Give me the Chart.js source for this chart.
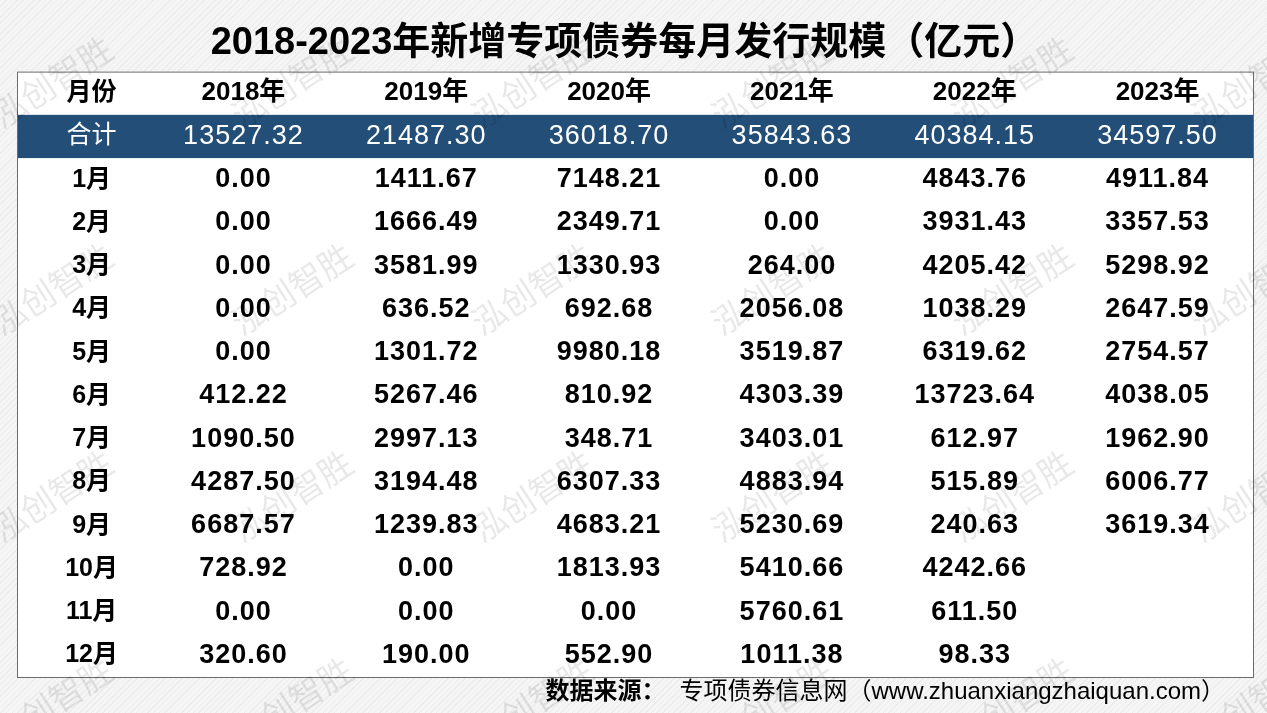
<!DOCTYPE html>
<html>
<head>
  <meta charset="utf-8">
  <title>2018-2023年新增专项债券每月发行规模（亿元）</title>
  <script src="https://cdn.jsdelivr.net/npm/chart.js"></script>
  <style>
    html, body { margin: 0; padding: 0; }
    body { background: repeating-linear-gradient(135deg, #ececec 0 1px, #f5f5f5 1px 4px); }
    #wrap { width: 1267px; height: 713px; position: relative; }
  </style>
</head>
<body>
<div id="wrap"><canvas id="tableChart"></canvas></div>

<script>
  // table data (亿元)
  const years = ['2018年', '2019年', '2020年', '2021年', '2022年', '2023年'];
  const rows = ['月份', '合计', '1月', '2月', '3月', '4月', '5月', '6月', '7月', '8月', '9月', '10月', '11月', '12月'];
  const totals = [13527.32, 21487.30, 36018.70, 35843.63, 40384.15, 34597.50];
  const y2018 = [0.00, 0.00, 0.00, 0.00, 0.00, 412.22, 1090.50, 4287.50, 6687.57, 728.92, 0.00, 320.60];
  const y2019 = [1411.67, 1666.49, 3581.99, 636.52, 1301.72, 5267.46, 2997.13, 3194.48, 1239.83, 0.00, 0.00, 190.00];
  const y2020 = [7148.21, 2349.71, 1330.93, 692.68, 9980.18, 810.92, 348.71, 6307.33, 4683.21, 1813.93, 0.00, 552.90];
  const y2021 = [0.00, 0.00, 264.00, 2056.08, 3519.87, 4303.39, 3403.01, 4883.94, 5230.69, 5410.66, 5760.61, 1011.38];
  const y2022 = [4843.76, 3931.43, 4205.42, 1038.29, 6319.62, 13723.64, 612.97, 515.89, 240.63, 4242.66, 611.50, 98.33];
  const y2023 = [4911.84, 3357.53, 5298.92, 2647.59, 2754.57, 4038.05, 1962.90, 6006.77, 3619.34, null, null, null];
  const monthly = [y2018, y2019, y2020, y2021, y2022, y2023];

  const titleText = '2018-2023年新增专项债券每月发行规模（亿元）';
  const sourceLabel = '数据来源：';
  const sourceText = '专项债券信息网（www.zhuanxiangzhaiquan.com）';
  const watermark = '泓创智胜';

  const FONT = '"Liberation Sans", "Noto Sans CJK SC", sans-serif';
  const BAND = '#224e78';
  Chart.defaults.font.family = FONT;

  // one invisible point per cell, the plugin writes the value there
  const datasets = years.map((yr, j) => {
    const pts = [{ x: yr, y: '合计', v: totals[j] }];
    monthly[j].forEach((v, i) => {
      if (v !== null) pts.push({ x: yr, y: rows[i + 2], v: v });
    });
    return { label: yr, data: pts, showLine: false, pointRadius: 0, pointHoverRadius: 0 };
  });

  const tablePlugin = {
    id: 'tablePlugin',
    beforeDraw(chart) {
      const { ctx, chartArea, scales: { y } } = chart;
      const left = y.left + 17, right = chartArea.right + 4;
      ctx.save();
      ctx.fillStyle = '#fff';
      ctx.fillRect(left, chartArea.top, right - left, chartArea.bottom - chartArea.top);
      ctx.strokeStyle = '#6b6b6b';
      ctx.lineWidth = 1;
      ctx.strokeRect(left + 0.5, chartArea.top + 0.5, right - left, chartArea.bottom - chartArea.top);
      // band for 合计
      const rowH = y.getPixelForValue(2) - y.getPixelForValue(1);
      const cy = y.getPixelForValue(1);
      ctx.fillStyle = BAND;
      ctx.fillRect(left + 1, cy - rowH / 2, right - left - 1, rowH);
      ctx.restore();
    },
    afterDatasetsDraw(chart) {
      const { ctx, scales: { x, y } } = chart;
      ctx.save();
      ctx.textAlign = 'center';
      ctx.textBaseline = 'middle';
      // year headers
      ctx.fillStyle = '#000';
      ctx.font = 'bold 26px ' + FONT;
      years.forEach((yr, j) => ctx.fillText(yr, x.getPixelForValue(j), y.getPixelForValue(0)));
      // cell values
      ctx.letterSpacing = '1px';
      chart.data.datasets.forEach((ds, j) => {
        const meta = chart.getDatasetMeta(j);
        meta.data.forEach((pt, i) => {
          const cell = ds.data[i];
          const isTotal = cell.y === '合计';
          ctx.font = (isTotal ? 'normal ' : 'bold ') + '27px ' + FONT;
          ctx.fillStyle = isTotal ? '#fff' : '#000';
          ctx.fillText(cell.v.toFixed(2), pt.x, pt.y);
        });
      });
      ctx.restore();
    },
    afterDraw(chart) {
      const { ctx, chartArea } = chart;
      ctx.save();
      // source line
      const yy = chartArea.bottom + 15;
      const rightX = chartArea.right - 24;
      ctx.textBaseline = 'middle';
      ctx.textAlign = 'right';
      ctx.fillStyle = '#000';
      ctx.font = 'normal 24px ' + FONT;
      ctx.fillText(sourceText, rightX, yy);
      const w = ctx.measureText(sourceText).width;
      ctx.font = 'bold 24px ' + FONT;
      ctx.fillText(sourceLabel, rightX - w - 14, yy);
      // watermarks
      ctx.font = 'normal 34px "Noto Sans CJK SC", sans-serif';
      ctx.fillStyle = 'rgba(0,0,0,0.09)';
      ctx.textAlign = 'center';
      for (let r = 0; r < 4; r++) {
        for (let c = 0; c < 6; c++) {
          ctx.save();
          ctx.translate(52 + c * 240, 82 + r * 207);
          ctx.rotate(-33 * Math.PI / 180);
          ctx.fillText(watermark, 0, 0);
          ctx.restore();
        }
      }
      ctx.restore();
    }
  };

  new Chart(document.getElementById('tableChart'), {
    type: 'line',
    data: { datasets: datasets },
    options: {
      responsive: true,
      maintainAspectRatio: false,
      animation: false,
      events: [],
      layout: { padding: { top: 20, bottom: 36, left: 0, right: 18 } },
      plugins: {
        legend: { display: false },
        tooltip: { enabled: false },
        title: {
          display: true,
          text: titleText,
          color: '#000',
          font: { size: 38, weight: 'bold' },
          padding: { top: 1, bottom: 5 }
        }
      },
      scales: {
        x: {
          type: 'category',
          labels: years,
          offset: true,
          display: false
        },
        y: {
          type: 'category',
          labels: rows,
          offset: true,
          grid: { display: false, drawTicks: false },
          border: { display: false },
          ticks: {
            autoSkip: false,
            crossAlign: 'center',
            padding: 34,
            color: ctx => ctx.index === 1 ? '#fff' : '#000',
            font: ctx => ({ size: 25, weight: ctx.index === 1 ? 'normal' : 'bold' })
          },
          afterFit: s => {
            s.width = 152;
            s.paddingTop = 0;
            s.paddingBottom = 0;
          }
        }
      }
    },
    plugins: [tablePlugin]
  });
</script>
</body>
</html>
